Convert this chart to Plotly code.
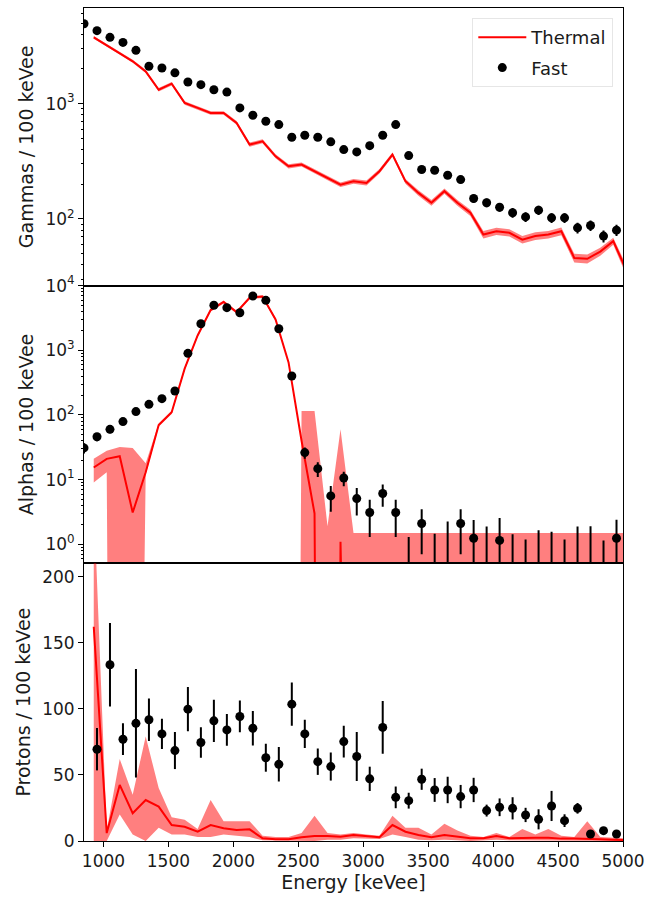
import plotly.graph_objects as go
from plotly.subplots import make_subplots

# ---------------- data ----------------
fast_x = [850, 950, 1050, 1150, 1250, 1350, 1450, 1550, 1650, 1750,
          1850, 1950, 2050, 2150, 2250, 2350, 2450, 2550, 2650, 2750,
          2850, 2950, 3050, 3150, 3250, 3350, 3450, 3550, 3650, 3750,
          3850, 3950, 4050, 4150, 4250, 4350, 4450, 4550, 4650, 4750,
          4850, 4950]
thermal_x = [925, 1025, 1125, 1225, 1325, 1425, 1525, 1625, 1725, 1825,
             1925, 2025, 2125, 2225, 2325, 2425, 2525, 2625, 2725, 2825,
             2925, 3025, 3125, 3225, 3325, 3425, 3525, 3625, 3725, 3825,
             3925, 4025, 4125, 4225, 4325, 4425, 4525, 4625, 4725, 4825,
             4925, 5025]

# Gammas
gamma_fast = [4940, 4300, 3760, 3400, 2900, 2110, 2040, 1850, 1540, 1460,
              1320, 1260, 918, 793, 703, 658, 511, 531, 511, 466,
              399, 381, 432, 531, 658, 354, 268, 264, 239, 219,
              150, 138, 126, 113, 104, 119, 102, 102, 83.6, 87.5,
              70.8, 79.8]
gamma_fast_err = [70, 65, 60, 58, 54, 46, 45, 43, 39, 38,
                  36, 35, 30, 28, 26, 26, 23, 23, 23, 22,
                  20, 20, 21, 23, 26, 19, 16, 16, 15, 15,
                  12, 12, 11, 11, 10, 11, 10, 10, 9, 9,
                  8.4, 8.9]
gamma_thermal = [3760, 3200, 2750, 2330, 1905, 1320, 1490, 1014, 918, 830,
                 830, 680, 441, 471, 349, 286, 296, 259, 227, 198,
                 212, 205, 259, 361, 212, 168, 138, 174, 138, 113,
                 73, 78, 75.6, 66, 71, 73, 78, 45.8, 45, 52,
                 64, 36]
gamma_thermal_err = [110, 95, 85, 70, 60, 45, 50, 35, 32, 30,
                     30, 25, 18, 19, 14, 12, 12, 11, 10, 9,
                     10, 10, 12, 15, 10, 9, 8, 9, 8, 7,
                     5.5, 5.5, 5.5, 5, 5.5, 5.5, 6, 4, 4, 4.2,
                     4.5, 3.5]

# Alphas
alpha_fast = [31, 46, 60, 79, 113, 146, 179, 235, 899, 2580,
              4970, 4570, 3820, 6920, 5930, 2160, 401, 26.2, 14.8, 5.6,
              10.6, 5.1, 3.1, 6.1, 3.1, 0, 2.1, 0, 0, 2.1,
              1.24, 0, 1.15, 0, 0, 0, 0, 0, 0, 0,
              0, 1.24]
alpha_fast_err = [5.6, 6.8, 7.7, 8.9, 10.6, 12, 13.4, 15, 30, 51,
                  70, 68, 62, 83, 77, 46, 20, 5.1, 3.8, 2.4,
                  2.7, 2.3, 1.8, 2.3, 1.8, 1.30, 1.4, 1.46, 2.25, 1.4,
                  1.14, 1.88, 1.4, 1.43, 1.19, 1.65, 1.57, 1.19, 1.88, 1.9,
                  1.15, 1.15]
alpha_thermal = [15.4, 21, 23, 3.1, 13, 70, 110, 520, 1700, 4200,
                 5600, 3900, 6500, 6800, 3000, 650, 40, 3, 0, 1.1,
                 0, 0, 0, 0, 0, 0, 0, 0, 0, 0,
                 0, 0, 0, 0, 0, 0, 0, 0, 0, 0,
                 0, 0]
alpha_thermal_lo = [9, 13, 0, 0, 12, 66, 104, 494, 1615, 3990,
                    5320, 3700, 6170, 6460, 2850, 0, 0, 0, 0, 0,
                    0, 0, 0, 0, 0, 0, 0, 0, 0, 0,
                    0, 0, 0, 0, 0, 0, 0, 0, 0, 0,
                    0, 0]
alpha_thermal_hi = [21, 28, 32, 31, 18, 74, 116, 546, 1785, 4410,
                    5880, 4100, 6830, 7140, 3150, 0, 115, 115, 1.9, 60,
                    1.5, 1.5, 1.5, 1.5, 1.5, 1.5, 1.5, 1.5, 1.5, 1.5,
                    1.5, 1.5, 1.5, 1.5, 1.5, 1.5, 1.5, 1.5, 1.5, 1.5,
                    1.5, 1.5]

# Protons
proton_fast_x = fast_x[1:]
proton_fast = [69.4, 133.3, 77, 89, 91.7, 81, 68.4, 99.7, 74.5,
               90.9, 84, 94.2, 85.3, 63, 58, 103.5, 81, 60, 56.3,
               75.2, 63.9, 47, 85.9, 33, 30.5, 46.7, 38.6, 38.6, 33.6,
               38.6, 23, 25.5, 24.7, 19.7, 16.4, 26.5, 15.4, 24.7, 5.3,
               7.8, 5.3]
proton_fast_err = [16, 31.5, 12, 41, 16, 11.5, 14, 16.7, 11.5,
                   16, 12, 12, 13, 10.6, 13, 16.4, 10.7, 10, 10.6,
                   12, 18.5, 9.2, 20, 8.2, 6, 8, 9, 10, 8.8,
                   9.2, 4.5, 6.7, 8.4, 5.4, 7.6, 11.4, 4.8, 4, 2,
                   2, 2]
proton_thermal = [162, 6, 42.4, 21, 31, 26, 12.1, 10.8, 7, 12.1,
                  9.6, 8.3, 8.8, 2.0, 1.3, 1.3, 2.8, 3.8, 3.8, 3.3,
                  4.5, 3.8, 2.8, 12.1, 7, 4.5, 2.8, 4.5, 3.3, 2,
                  2, 3.8, 2, 2.5, 2.5, 2.5, 1.8, 1.8, 1.3, 1.3,
                  1.0, 0.8]
proton_thermal_lo = [0, 0, 20, 5, 0, 10, 5, 5, 3, 3,
                     5, 4, 3, 0.5, 0, 0, 0, 0, 1, 1,
                     2, 2, 1.5, 5, 3, 1, 0.5, 1, 0.5, 0,
                     0.5, 1, 0.5, 0.5, 0.5, 0.5, 0.3, 0.3, 0, 0,
                     0, 0]
proton_thermal_hi = [260, 8, 62, 35, 79, 40, 18, 16, 9, 31,
                     15, 15, 15, 4, 3, 3, 6, 19, 6, 5,
                     6, 5, 4, 19, 10, 10, 5, 13, 8, 4,
                     3, 6, 3, 9, 5, 9, 4, 3, 15, 3,
                     2.5, 2]

LOG_FLOOR = 1e-30


def floor(vals):
    return [max(v, LOG_FLOOR) for v in vals]


RED = "#ff0000"
BAND = "rgba(255,0,0,0.5)"
FONT = "DejaVu Sans"

fig = make_subplots(rows=3, cols=1, shared_xaxes=True, vertical_spacing=0)

# ---- Gammas ----
g_hi = [v + e for v, e in zip(gamma_thermal, gamma_thermal_err)]
g_lo = [v - e for v, e in zip(gamma_thermal, gamma_thermal_err)]
fig.add_trace(go.Scatter(x=thermal_x + thermal_x[::-1], y=g_hi + g_lo[::-1],
                         fill="toself", fillcolor=BAND, line=dict(width=0),
                         mode="lines", showlegend=False, hoverinfo="skip"),
              row=1, col=1)
fig.add_trace(go.Scatter(x=thermal_x, y=gamma_thermal, mode="lines",
                         line=dict(color=RED, width=2), name="Thermal",
                         legendgroup="a"),
              row=1, col=1)
fig.add_trace(go.Scatter(x=fast_x, y=gamma_fast, mode="markers",
                         marker=dict(color="black", size=9),
                         error_y=dict(type="data", array=gamma_fast_err,
                                      color="black", thickness=2, width=0),
                         name="Fast", legendgroup="b"),
              row=1, col=1)

# ---- Alphas ----
fig.add_trace(go.Scatter(x=thermal_x + thermal_x[::-1],
                         y=floor(alpha_thermal_hi) + floor(alpha_thermal_lo)[::-1],
                         fill="toself", fillcolor=BAND, line=dict(width=0),
                         mode="lines", showlegend=False, hoverinfo="skip"),
              row=2, col=1)
fig.add_trace(go.Scatter(x=thermal_x, y=floor(alpha_thermal), mode="lines",
                         line=dict(color=RED, width=2), showlegend=False),
              row=2, col=1)
nz = [i for i, v in enumerate(alpha_fast) if v > 0]
fig.add_trace(go.Scatter(x=[fast_x[i] for i in nz], y=[alpha_fast[i] for i in nz],
                         mode="markers", marker=dict(color="black", size=9),
                         error_y=dict(type="data", array=[alpha_fast_err[i] for i in nz],
                                      color="black", thickness=2, width=0),
                         showlegend=False),
              row=2, col=1)
zx, zy = [], []
for i, v in enumerate(alpha_fast):
    if v <= 0:
        zx += [fast_x[i], fast_x[i], None]
        zy += [1e-3, v + alpha_fast_err[i], None]
fig.add_trace(go.Scatter(x=zx, y=zy, mode="lines",
                         line=dict(color="black", width=2), showlegend=False),
              row=2, col=1)

# ---- Protons ----
fig.add_trace(go.Scatter(x=thermal_x + thermal_x[::-1],
                         y=proton_thermal_hi + proton_thermal_lo[::-1],
                         fill="toself", fillcolor=BAND, line=dict(width=0),
                         mode="lines", showlegend=False, hoverinfo="skip"),
              row=3, col=1)
fig.add_trace(go.Scatter(x=thermal_x, y=proton_thermal, mode="lines",
                         line=dict(color=RED, width=2), showlegend=False),
              row=3, col=1)
fig.add_trace(go.Scatter(x=proton_fast_x, y=proton_fast, mode="markers",
                         marker=dict(color="black", size=9),
                         error_y=dict(type="data", array=proton_fast_err,
                                      color="black", thickness=2, width=0),
                         showlegend=False),
              row=3, col=1)

# ---------------- layout ----------------
tickfont = dict(family=FONT, size=17, color="#1a1a1a")
titlefont = dict(family=FONT, size=19, color="#1a1a1a")
axis_common = dict(showline=True, linecolor="black", linewidth=1, mirror=True,
                   showgrid=False, zeroline=False, tickfont=tickfont,
                   ticks="outside", ticklen=5, tickcolor="black",
                   automargin=False)

fig.update_xaxes(range=[850, 5000], **axis_common)
fig.update_xaxes(showticklabels=False, ticks="", row=1, col=1)
fig.update_xaxes(showticklabels=False, ticks="", row=2, col=1)
fig.update_xaxes(tickvals=[1000, 1500, 2000, 2500, 3000, 3500, 4000, 4500, 5000],
                 title=dict(text="Energy [keVee]", font=titlefont, standoff=4),
                 row=3, col=1)

minor_log = dict(ticks="outside", ticklen=2.5, tickcolor="black", dtick="D1",
                 showgrid=False)
fig.update_yaxes(type="log", range=[1.42, 3.83], tickvals=[100, 1000],
                 ticktext=["10<sup>2</sup>", "10<sup>3</sup>"], minor=minor_log,
                 title=dict(text="Gammas / 100 keVee", font=titlefont, standoff=6),
                 row=1, col=1, **axis_common)
fig.update_yaxes(type="log", range=[-0.294, 4.0],
                 tickvals=[1, 10, 100, 1000, 10000],
                 ticktext=["10<sup>0</sup>", "10<sup>1</sup>", "10<sup>2</sup>",
                           "10<sup>3</sup>", "10<sup>4</sup>"], minor=minor_log,
                 title=dict(text="Alphas / 100 keVee", font=titlefont, standoff=6),
                 row=2, col=1, **axis_common)
fig.update_yaxes(range=[0, 210], tickvals=[0, 50, 100, 150, 200],
                 title=dict(text="Protons / 100 keVee", font=titlefont, standoff=6),
                 row=3, col=1, **axis_common)

fig.update_layout(
    width=648, height=901,
    margin=dict(l=84, r=25, t=8, b=60, autoexpand=False),
    paper_bgcolor="white", plot_bgcolor="white",
    font=dict(family=FONT, size=17, color="#1a1a1a"),
    legend=dict(x=0.982, y=0.988, xanchor="right", yanchor="top",
                bgcolor="rgba(255,255,255,0.8)", bordercolor="#e6e6e6",
                borderwidth=1, itemwidth=48, tracegroupgap=4,
                traceorder="grouped",
                font=dict(family=FONT, size=18, color="#1a1a1a")),
)

fig.write_html("out.html")
